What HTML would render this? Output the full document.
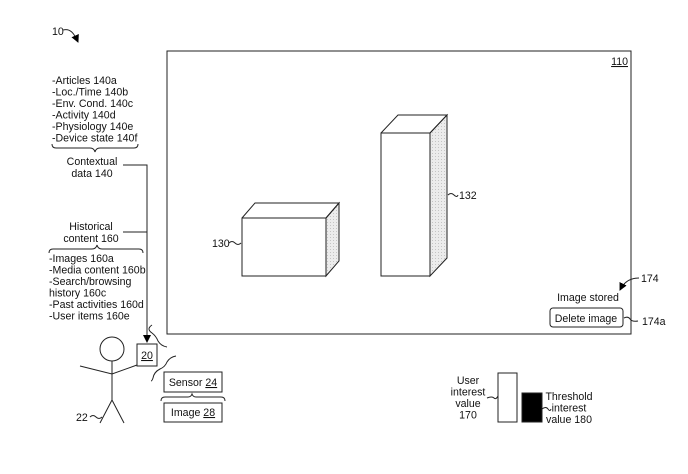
<!DOCTYPE html>
<html><head><style>
html,body{margin:0;padding:0;background:#fff}
svg{display:block}
text{font-family:"Liberation Sans",Arial,sans-serif;font-size:10.6px;fill:#111}
</style></head><body>
<svg width="688" height="474" viewBox="0 0 688 474" xmlns="http://www.w3.org/2000/svg">
<defs>
<pattern id="dots" width="3" height="3" patternUnits="userSpaceOnUse">
<rect width="3" height="3" fill="#ececec"/><rect width="1" height="1" fill="#c4c4c4"/>
</pattern>
<marker id="ah" markerWidth="8" markerHeight="8" refX="7" refY="4" orient="auto" markerUnits="userSpaceOnUse">
<path d="M0,0 L8,4 L0,8 z" fill="#000"/></marker>
</defs>
<g stroke="#222" fill="none" stroke-width="1">
<path d="M63,30 C70,28 74,33 78,42" marker-end="url(#ah)"/>
<rect x="167" y="51" width="464" height="283"/>
<rect x="242" y="218" width="84" height="58" fill="#fff"/>
<path d="M326,218 L339,203 L339,261 L326,276 Z" fill="url(#dots)"/>
<path d="M242,218 L255,203 L339,203 L326,218"/>
<rect x="381" y="133" width="49" height="143" fill="#fff"/>
<path d="M430,133 L447,115 L447,258 L430,276 Z" fill="url(#dots)"/>
<path d="M381,133 L398,115 L447,115 L430,133"/>
<path d="M229,243 q3,-3 6,0 t6,0"/>
<path d="M448,195 q3,-3 6,0 t4,0"/>
<path d="M52,144 q0,4 4,4 L90,148 q4,0 5,4 q1,-4 5,-4 L134,148 q4,0 4,-4"/>
<path d="M123,165 L147,165 L147,342" marker-end="url(#ah)"/>
<path d="M123,232 L147,232"/>
<path d="M49,253 q0,-4 4,-4 L92,249 q4,0 5,-4 q1,4 5,4 L139,249 q4,0 4,4"/>
<rect x="137" y="344" width="20" height="22"/>
<path d="M152,325 q-6,4 0,8 q4,3 6,8 q3,5 9,6"/>
<path d="M176,356 q-6,1 -9,6 q-2,5 -7,7 q-6,3 -7,9 q-1,3 -2,3"/>
<circle cx="112" cy="349" r="12"/>
<path d="M112,361 L112,400 M80,366 L112,374 L137,365 M112,400 L100,423 M112,400 L124,423"/>
<path d="M90,417 q3,-3 6,0 t6,0"/>
<rect x="164" y="372" width="58" height="20"/>
<rect x="164" y="403" width="58" height="19"/>
<path d="M161,401 q0,-4 4,-4 L188,397 q3,0 4,-3 q1,3 4,3 L221,397 q4,0 4,4"/>
<path d="M639,278 C630,278 624,282 620,290" marker-end="url(#ah)"/>
<rect x="550" y="308" width="73" height="19" rx="3"/>
<path d="M624,318 q4,-2 6,1 t8,2"/>
<rect x="498" y="373" width="19" height="49"/>
<rect x="522" y="393" width="20" height="29" fill="#000"/>
<path d="M487,398 q5,-2 7,0 t4,-2"/>
<path d="M542,409 q4,-3 6,0 t3,0"/>
</g>
<text x="52" y="35">10</text>
<text x="628" y="65" text-anchor="end" text-decoration="underline">110</text>
<text x="212" y="247">130</text>
<text x="459" y="199">132</text>
<text x="52" y="84">-Articles 140a</text>
<text x="52" y="95.5">-Loc./Time 140b</text>
<text x="52" y="107">-Env. Cond. 140c</text>
<text x="52" y="118.5">-Activity 140d</text>
<text x="52" y="130">-Physiology 140e</text>
<text x="52" y="141.5">-Device state 140f</text>
<text x="92" y="165" text-anchor="middle">Contextual</text>
<text x="92" y="177" text-anchor="middle">data 140</text>
<text x="91" y="230" text-anchor="middle">Historical</text>
<text x="91" y="242" text-anchor="middle">content 160</text>
<text x="49" y="262">-Images 160a</text>
<text x="49" y="273.5">-Media content 160b</text>
<text x="49" y="285">-Search/browsing</text>
<text x="49" y="296.5">history 160c</text>
<text x="49" y="308">-Past activities 160d</text>
<text x="49" y="319.5">-User items 160e</text>
<text x="147" y="359" text-anchor="middle" text-decoration="underline">20</text>
<text x="76" y="421">22</text>
<text x="193" y="386" text-anchor="middle">Sensor <tspan text-decoration="underline">24</tspan></text>
<text x="193" y="416" text-anchor="middle">Image <tspan text-decoration="underline">28</tspan></text>
<text x="641" y="282">174</text>
<text x="588" y="301" text-anchor="middle">Image stored</text>
<text x="586" y="322" text-anchor="middle">Delete image</text>
<text x="642" y="325">174a</text>
<text x="468" y="384" text-anchor="middle">User</text>
<text x="468" y="395.5" text-anchor="middle">interest</text>
<text x="468" y="407" text-anchor="middle">value</text>
<text x="468" y="418.5" text-anchor="middle">170</text>
<text x="569" y="400" text-anchor="middle">Threshold</text>
<text x="569" y="411.5" text-anchor="middle">interest</text>
<text x="569" y="423" text-anchor="middle">value 180</text>
</svg>
</body></html>
